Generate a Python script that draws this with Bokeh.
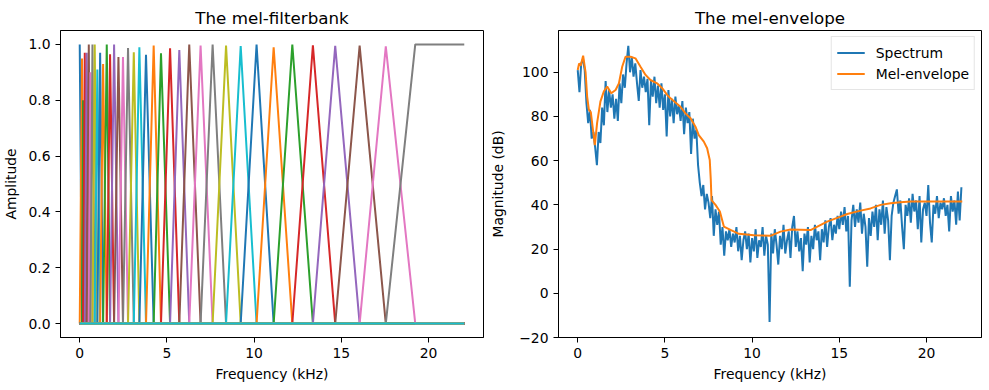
import numpy as np
from bokeh.plotting import figure
from bokeh.layouts import row
from bokeh.models import Range1d, FixedTicker, PrintfTickFormatter
from bokeh.embed import file_html
from bokeh.resources import INLINE

# ---------------- data ----------------
NYQUIST_KHZ = 22.05
N_FILTERS = 40

# centre frequency (kHz) and drawn peak height of each non-empty mel filter
filter_centers_khz = [0.0, 0.13, 0.19, 0.29, 0.40, 0.52, 0.61, 0.73, 0.86, 1.01,
                      1.17, 1.34, 1.55, 1.74, 1.97, 2.22, 2.48, 2.77, 3.10, 3.42,
                      3.80, 4.24, 4.66, 5.18, 5.71, 6.28, 6.93, 7.62, 8.39, 9.23,
                      10.14, 11.12, 12.19, 13.37, 14.65, 16.05, 17.55, 19.24]
filter_peaks = [1.0, 0.95, 0.80, 0.97, 0.97, 1.0, 0.90, 1.0, 1.0, 0.91,
                0.97, 0.93, 1.0, 0.965, 1.0, 0.955, 0.955, 0.987, 0.972, 0.99,
                0.963, 0.996, 0.968, 0.986, 0.98, 1.0, 0.996, 1.0, 0.996, 0.994,
                1.0, 0.99, 1.0, 0.997, 0.995, 0.996, 0.993, 1.0]

# spectrum magnitude (dB), one value every 0.1 kHz from 0 to 22 kHz
SPEC_STEP_KHZ = 0.1
spectrum_db = [
    101, 91, 104, 106, 101, 86, 77, 83, 70, 73,
    66, 58, 73, 68, 84, 76, 96, 82, 92, 84,
    90, 79, 88, 78, 95, 86, 99, 93, 104, 112,
    100, 107, 98, 104, 95, 87, 101, 93, 98, 91,
    97, 76, 96, 89, 98, 86, 94, 84, 95, 83,
    90, 71, 92, 80, 88, 77, 89, 81, 85, 78,
    87, 72, 84, 77, 82, 63, 79, 70, 74, 58,
    50, 44, 49, 38, 45, 41, 34, 44, 26, 38,
    31, 37, 22, 30, 17, 28, 24, 29, 21, 27,
    23, 30, 19, 26, 15, 24, 28, 20, 27, 14,
    25, 19, 29, 16, 24, 21, 30, 17, 26, 22,
    -13, 27, 18, 29, 22, 13, 26, 20, 31, 18,
    24, 28, 16, 30, 35, 21, 28, 19, 25, 10,
    27, 22, 30, 14, 26, 20, 31, 24, 28, 15,
    29, 23, 33, 21, 30, 34, 24, 31, 27, 35,
    29, 37, 31, 39, 28, 35, 3, 33, 40, 30,
    38, 32, 41, 27, 36, 30, 12, 34, 26, 37,
    30, 40, 24, 38, 31, 42, 27, 39, 33, 15,
    35, 41, 44, 47, 36, 42, 30, 20, 40, 35,
    43, 32, 45, 37, 42, 29, 44, 23, 38, 41,
    35, 49, 32, 23, 40, 36, 44, 34, 41, 38,
    43, 35, 40, 28, 44, 37, 42, 31, 46, 33,
    48,
]

# mel envelope (kHz, dB)
env_freq_khz = [0.0, 0.08, 0.17, 0.31, 0.45, 0.54, 0.64, 0.75, 0.98, 1.11,
                1.30, 1.50, 1.69, 1.92, 2.17, 2.36, 2.55, 2.74, 3.03, 3.31,
                3.60, 3.89, 4.17, 4.55, 4.84, 5.13, 5.32, 5.89, 6.18, 6.47,
                6.75, 6.94, 7.23, 7.42, 7.57, 7.63, 7.67, 7.90, 8.15, 8.38,
                8.76, 9.24, 10.10, 11.05, 11.63, 12.20, 13.35, 14.30, 15.07, 15.45,
                16.22, 16.79, 17.37, 17.94, 18.51, 19.09, 22.05]
env_db = [101, 104, 103, 107.5, 100, 89, 83, 82, 67, 77,
          86.7, 91.4, 93.5, 90.5, 92, 95, 102.5, 107, 107, 106.3,
          102.5, 98.8, 96.5, 95, 92.8, 89.8, 88.2, 84.4, 81.4, 79.2,
          75.4, 71.6, 68.6, 65.6, 60.3, 51.3, 42.2, 40, 37, 30.2,
          28.7, 26.9, 26.3, 26, 27.9, 28.9, 28.6, 32.4, 34.7, 35.9,
          37.4, 38.4, 40, 40.7, 41.2, 41.5, 41.5]

TAB10 = ["#1f77b4", "#ff7f0e", "#2ca02c", "#d62728", "#9467bd",
         "#8c564b", "#e377c2", "#7f7f7f", "#bcbd22", "#17becf"]
FONT = "DejaVu Sans"
TICK_FS = "13.9px"


def style(p, xlabel, ylabel, ylabel_standoff):
    p.background_fill_color = "white"
    p.border_fill_color = "white"
    p.outline_line_color = "black"
    p.outline_line_width = 1
    p.xgrid.visible = False
    p.ygrid.visible = False
    p.title.text_font = FONT
    p.title.text_font_size = "16.7px"
    p.title.text_font_style = "normal"
    p.title.text_color = "black"
    p.title.align = "center"
    p.title.standoff = 5
    for ax in (p.xaxis[0], p.yaxis[0]):
        ax.axis_line_color = "black"
        ax.major_tick_line_color = "black"
        ax.major_tick_in = 0
        ax.major_tick_out = 5
        ax.minor_tick_line_color = None
        ax.major_label_text_font = FONT
        ax.major_label_text_font_size = TICK_FS
        ax.major_label_text_color = "black"
        ax.axis_label_text_font = FONT
        ax.axis_label_text_font_size = TICK_FS
        ax.axis_label_text_font_style = "normal"
        ax.axis_label_text_color = "black"
    p.xaxis.axis_label = xlabel
    p.yaxis.axis_label = ylabel
    p.xaxis.major_label_standoff = 5
    p.xaxis.axis_label_standoff = 5
    p.yaxis.major_label_standoff = 5
    p.yaxis.axis_label_standoff = ylabel_standoff
    p.xaxis.ticker = FixedTicker(ticks=[0, 5, 10, 15, 20])


XR = (-0.05 * NYQUIST_KHZ, 1.05 * NYQUIST_KHZ)

# ---------------- left: filterbank ----------------
p1 = figure(frame_width=423, frame_height=307,
            min_border_left=58, min_border_right=4,
            min_border_top=30, min_border_bottom=44,
            x_range=Range1d(*XR), y_range=Range1d(-0.05, 1.05),
            title="The mel-filterbank",
            output_backend="svg", toolbar_location=None)
style(p1, "Frequency (kHz)", "Amplitude", 6)
p1.yaxis.ticker = FixedTicker(ticks=[0, 0.2, 0.4, 0.6, 0.8, 1.0])
p1.yaxis.formatter = PrintfTickFormatter(format="%.1f")

n_real = len(filter_centers_khz)
for i in range(N_FILTERS):
    color = TAB10[i % 10]
    if i >= n_real:
        xs, ys = [0.0, NYQUIST_KHZ], [0.0, 0.0]
    elif i == 0:
        xs = [filter_centers_khz[0], filter_centers_khz[1], NYQUIST_KHZ]
        ys = [filter_peaks[0], 0.0, 0.0]
    elif i == n_real - 1:
        xs = [0.0, filter_centers_khz[i - 1], filter_centers_khz[i], NYQUIST_KHZ]
        ys = [0.0, 0.0, filter_peaks[i], filter_peaks[i]]
    else:
        xs = [0.0, filter_centers_khz[i - 1], filter_centers_khz[i],
              filter_centers_khz[i + 1], NYQUIST_KHZ]
        ys = [0.0, 0.0, filter_peaks[i], 0.0, 0.0]
    p1.line(xs, ys, line_color=color, line_width=2)

# ---------------- right: envelope ----------------
p2 = figure(frame_width=423, frame_height=307,
            min_border_left=68, min_border_right=4,
            min_border_top=30, min_border_bottom=44,
            x_range=Range1d(*XR), y_range=Range1d(-20.0, 118.9),
            title="The mel-envelope",
            output_backend="svg", toolbar_location=None)
style(p2, "Frequency (kHz)", "Magnitude (dB)", 10)
p2.yaxis.ticker = FixedTicker(ticks=[-20, 0, 20, 40, 60, 80, 100])
p2.yaxis.major_label_overrides = {-20: "\u221220"}

spec_freq = np.arange(len(spectrum_db)) * SPEC_STEP_KHZ
p2.line(spec_freq, spectrum_db, line_color=TAB10[0], line_width=2,
        legend_label="Spectrum")
p2.line(env_freq_khz, env_db, line_color=TAB10[1], line_width=2,
        legend_label="Mel-envelope")

lg = p2.legend[0]
lg.location = "top_right"
lg.margin = 6
lg.padding = 5
lg.spacing = 0
lg.label_height = 21
lg.glyph_height = 21
lg.glyph_width = 28
lg.label_standoff = 11
lg.label_text_font = FONT
lg.label_text_font_size = TICK_FS
lg.label_text_color = "black"
lg.border_line_color = "#cccccc"
lg.border_line_width = 1
lg.background_fill_alpha = 0.8

layout = row(p1, p2)
open("out.html", "w").write(file_html(layout, INLINE))
